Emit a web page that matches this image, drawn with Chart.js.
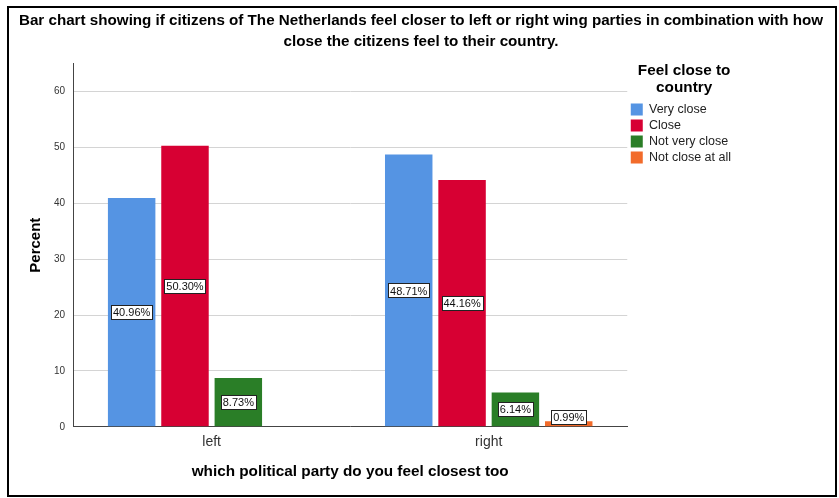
<!DOCTYPE html>
<html>
<head>
<meta charset="utf-8">
<script src="https://cdn.jsdelivr.net/npm/chart.js@4.4.1/dist/chart.umd.min.js"></script>
<style>
  html, body { margin: 0; padding: 0; background: #fff; }
  #wrap { width: 839px; height: 498px; }
</style>
</head>
<body>
<div id="wrap"><canvas id="myChart" width="839" height="498"></canvas></div>
<script>
// categories (x axis)
var parties = ["left", "right"];
// series: feel close to country
var veryClose = [40.96, 48.71];
var close = [50.30, 44.16];
var notVeryClose = [8.73, 6.14];
var notCloseAtAll = [null, 0.99];
var seriesNames = ["Very close", "Close", "Not very close", "Not close at all"];
var seriesColors = ["#5594e3", "#d70033", "#2a7e27", "#f26b2a"];
var yTicks = [0, 10, 20, 30, 40, 50, 60];

var FONT = "'Liberation Sans', Arial, sans-serif";

// outer black frame
var framePlugin = {
  id: "frame",
  afterDraw: function(chart) {
    var c = chart.ctx;
    c.save();
    c.strokeStyle = "#000";
    c.lineWidth = 2;
    c.strokeRect(8, 7, 828, 489);
    c.restore();
  }
};

// boxed percent labels on the bars
var boxLabels = {
  id: "boxLabels",
  afterDatasetsDraw: function(chart) {
    var c = chart.ctx;
    c.save();
    c.font = "11px " + FONT;
    c.textAlign = "center";
    c.textBaseline = "middle";
    chart.data.datasets.forEach(function(ds, i) {
      var meta = chart.getDatasetMeta(i);
      meta.data.forEach(function(bar, j) {
        var v = ds.data[j];
        if (v === null || v === undefined) return;
        var txt = v.toFixed(2) + "%";
        var cy = (bar.y + bar.base) / 2;
        // short bars: label sits just over the top
        if (bar.base - bar.y < 16) cy = bar.y - 4.5;
        var w = Math.round(c.measureText(txt).width) + 4;
        var h = 14;
        var x0 = Math.round(bar.x - w / 2) + 0.5;
        var y0 = Math.round(cy - h / 2) + 0.5;
        c.fillStyle = "#fff";
        c.fillRect(x0, y0, w, h);
        c.strokeStyle = "#222";
        c.lineWidth = 1;
        c.strokeRect(x0, y0, w, h);
        c.fillStyle = "#111";
        c.fillText(txt, bar.x, cy + 1);
      });
    });
    c.restore();
  }
};

var allSeries = [veryClose, close, notVeryClose, notCloseAtAll];
var datasets = [];
for (var i = 0; i < allSeries.length; i++) {
  datasets.push({
    label: seriesNames[i],
    data: allSeries[i],
    yAxisID: "y",
    backgroundColor: seriesColors[i],
    borderColor: seriesColors[i],
    borderWidth: 0,
    categoryPercentage: 0.77,
    barPercentage: 0.89
  });
}

var ctx = document.getElementById("myChart");
var myChart = new Chart(ctx, {
  type: "bar",
  data: { labels: parties, datasets: datasets },
  plugins: [framePlugin, boxLabels],
  options: {
    responsive: false,
    animation: false,
    layout: { padding: { left: 10, right: 7, top: 0, bottom: 17 } },
    plugins: {
      tooltip: { enabled: false },
      title: {
        display: true,
        text: ["Bar chart showing if citizens of The Netherlands feel closer to left or right wing parties in combination with how",
               "close the citizens feel to their country."],
        color: "#000",
        font: { family: FONT, size: 15.2, weight: "bold", lineHeight: 1.4 },
        padding: { top: 10, bottom: 11 }
      },
      legend: {
        position: "right",
        align: "start",
        fullSize: false,
        title: {
          display: true,
          text: ["Feel close to", "country"],
          color: "#000",
          font: { family: FONT, size: 15.3, weight: "bold", lineHeight: 1.05 },
          padding: { top: 0, bottom: 20 }
        },
        labels: {
          boxWidth: 12,
          boxHeight: 12,
          padding: 3.5,
          color: "#222",
          font: { family: FONT, size: 12.5 }
        }
      }
    },
    scales: {
      x: {
        grid: { display: false, drawTicks: false },
        border: { color: "#444", width: 1 },
        ticks: { color: "#333", font: { family: FONT, size: 14 }, padding: 7 },
        title: {
          display: true,
          text: "which political party do you feel closest too",
          color: "#000",
          font: { family: FONT, size: 15.3, weight: "bold" },
          padding: { top: 5, bottom: 0 }
        }
      },
      y: {
        min: 0,
        max: 65,
        afterBuildTicks: function(axis) {
          axis.ticks = yTicks.map(function(v) { return { value: v }; });
        },
        grid: { color: "#d4d4d4", lineWidth: 1, drawTicks: false },
        border: { color: "#444", width: 1 },
        ticks: { color: "#333", font: { family: FONT, size: 10 }, padding: 8 },
        title: {
          display: true,
          text: "Percent",
          color: "#000",
          font: { family: FONT, size: 15, weight: "bold" },
          padding: { top: 17, bottom: 1 }
        }
      },
      // empty strip right of the legend
      spacer: {
        type: "linear",
        axis: "y",
        position: "right",
        weight: 3000,
        grid: { display: false, drawTicks: false },
        border: { display: false },
        ticks: { display: false },
        afterFit: function(scale) { scale.width = 91; }
      }
    }
  }
});
</script>
</body>
</html>
